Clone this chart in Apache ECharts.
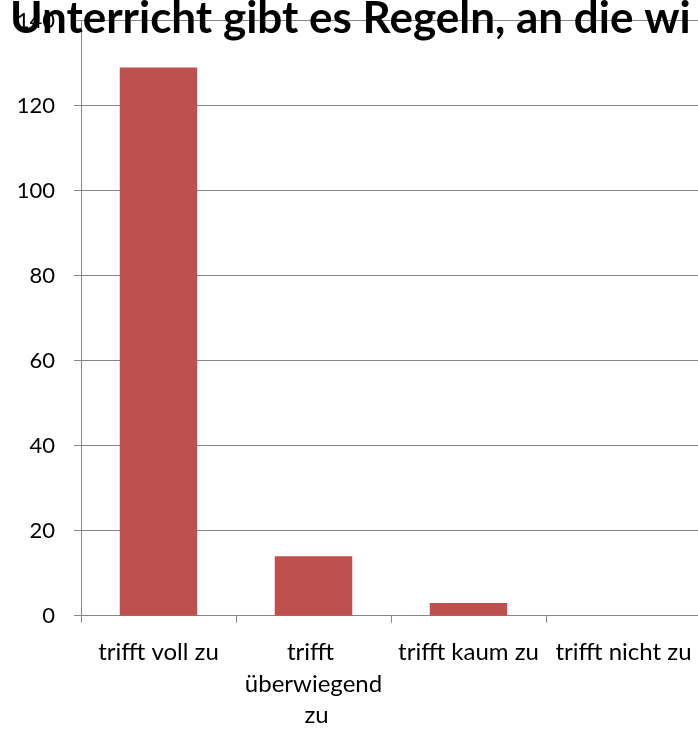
<!DOCTYPE html>
<html><head><meta charset="utf-8">
<script src="https://cdn.jsdelivr.net/npm/echarts@6/dist/echarts.min.js"></script>
<style>html,body{margin:0;padding:0;background:#fff}#c{width:698px;height:729px}</style>
</head><body><div id="c"></div>
<script>
const titleText = "Unterricht gibt es Regeln, an die wi";
const categories = ["trifft voll zu", "trifft überwiegend zu", "trifft kaum zu", "trifft nicht zu"];
const values = [129, 14, 3, 0];
const yTicks = { min: 0, max: 140, interval: 20 };

const chart = echarts.init(document.getElementById('c'), null, { renderer: 'canvas' });
const FONT = 'Lato';
chart.setOption({
  animation: false,
  title: {
    text: titleText, left: 5, top: -8,
    textStyle: { fontFamily: FONT, fontWeight: 'bold', fontSize: 44, color: '#000' }
  },
  grid: { left: 81, top: 20.7, width: 620, height: 595, containLabel: false, outerBoundsMode: 'none' },
  xAxis: {
    type: 'category', data: categories,
    axisLine: { lineStyle: { color: '#868686', width: 1 } },
    axisTick: { show: true, length: 7, lineStyle: { color: '#868686' } },
    axisLabel: { color: '#000', fontFamily: FONT, fontSize: 24, margin: 21, lineHeight: 31.5,
      width: 150, overflow: 'break', interval: 0 }
  },
  yAxis: {
    type: 'value', min: yTicks.min, max: yTicks.max, interval: yTicks.interval,
    axisLine: { show: true, lineStyle: { color: '#868686', width: 1 } },
    axisTick: { show: true, length: 7, lineStyle: { color: '#868686' } },
    splitLine: { lineStyle: { color: '#868686', width: 1 } },
    axisLabel: { color: '#000', fontFamily: FONT, fontSize: 22, margin: 26 }
  },
  series: [{
    type: 'bar', data: values, barWidth: '50%',
    itemStyle: { color: '#C0504D' }
  }]
});
</script></body></html>
